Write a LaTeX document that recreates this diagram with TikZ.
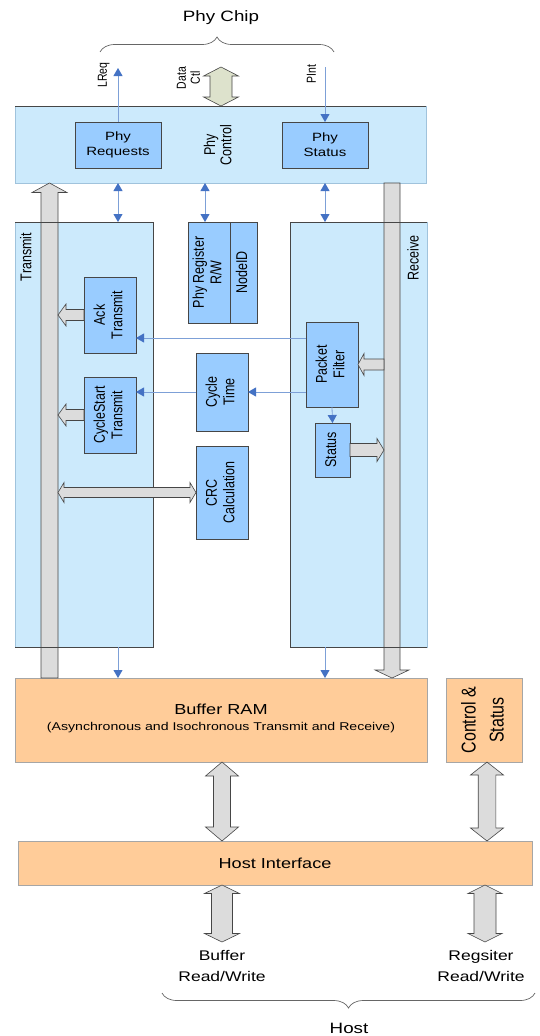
\documentclass[tikz,border=0pt]{standalone}
\usepackage{fontspec}
\usepackage{graphicx}
\setmainfont{Liberation Sans}
\newfontfamily\hf{Liberation Sans}[FakeStretch=1.25]
\newfontfamily\vf{Liberation Sans}[FakeStretch=0.8]
\usetikzlibrary{arrows.meta,calc,decorations.pathreplacing}

\definecolor{lblue}{RGB}{204,234,252}
\definecolor{mblue}{RGB}{153,204,255}
\definecolor{orng}{RGB}{255,204,153}
\definecolor{agray}{RGB}{220,220,220}
\definecolor{olivefill}{RGB}{221,226,204}
\definecolor{tblue}{RGB}{68,114,196}
\definecolor{tline}{RGB}{125,160,215}
\definecolor{edge}{RGB}{70,70,70}
\definecolor{ledge}{RGB}{160,195,220}

% rotated (bottom-to-top) text, compensating the horizontal stretch
\newcommand\rtxt[3]{\rotatebox{90}{\vf\fontsize{#1}{#2}\selectfont\begin{tabular}{@{}c@{}}#3\end{tabular}}}

% box from corners: [style]{x1}{y1}{x2}{y2}{name}{text}
\newcommand\bx[7][]{\node[#1, minimum width={(#4)-(#2)}, minimum height={(#5)-(#3)}, inner sep=0pt, outer sep=0pt] (#6) at ({((#2)+(#4))/2},{((#3)+(#5))/2}) {#7};}

% single block arrow: [style]{tail}{tip}{shaft half width}{head half width}{head length}
\newcommand\sarrow[6][]{%
  \path (#2) coordinate (sa-t) (#3) coordinate (sa-p);
  \path ($(sa-p)!#6!(sa-t)$) coordinate (sa-b);
  \draw[blk,#1] ($(sa-t)!#4!90:(sa-p)$) -- ($(sa-b)!#4!90:(sa-p)$) -- ($(sa-b)!#5!90:(sa-p)$) -- (sa-p)
     -- ($(sa-b)!#5!-90:(sa-p)$) -- ($(sa-b)!#4!-90:(sa-p)$) -- ($(sa-t)!#4!-90:(sa-p)$) -- cycle;}

% double block arrow: [style]{tip a}{tip b}{shaft half width}{head half width}{head length}
\newcommand\darrow[6][]{%
  \path (#2) coordinate (da-a) (#3) coordinate (da-b);
  \path ($(da-a)!#6!(da-b)$) coordinate (da-ab) ($(da-b)!#6!(da-a)$) coordinate (da-bb);
  \draw[blk,#1] (da-a) -- ($(da-ab)!#5!90:(da-b)$) -- ($(da-ab)!#4!90:(da-b)$) -- ($(da-bb)!#4!90:(da-b)$)
     -- ($(da-bb)!#5!90:(da-b)$) -- (da-b) -- ($(da-bb)!#5!-90:(da-b)$) -- ($(da-bb)!#4!-90:(da-b)$)
     -- ($(da-ab)!#4!-90:(da-b)$) -- ($(da-ab)!#5!-90:(da-b)$) -- cycle;}

\begin{document}
\begin{tikzpicture}[x=1pt,y=-1pt,
  blk/.style={draw=edge, fill=agray, line width=0.6pt, line join=miter},
  lb/.style={fill=lblue, draw=ledge, line width=0.6pt},
  ib/.style={fill=mblue, draw=edge, line width=0.7pt},
  ob/.style={fill=orng, draw=gray!70, line width=0.6pt},
  tln/.style={draw=tline, line width=0.8pt},
  ta/.style={tln, -{Triangle[length=8pt,width=9pt,color=tblue]}},
  tda/.style={tln, {Triangle[length=8pt,width=9pt,color=tblue]}-{Triangle[length=8pt,width=9pt,color=tblue]}},
  darkedge/.style={draw=edge, line width=0.6pt},
  bt/.style={font=\hf\fontsize{12}{15}\selectfont, align=center},
  lbl/.style={inner sep=0pt},
  bracestyle/.style={decorate, decoration={brace, amplitude=15pt}, draw=gray!80!black, line width=0.7pt},
]
\useasboundingbox (0,0) rectangle (539,1036);

% helper coordinates
\coordinate (colT) at (49.5,0);
\coordinate (colR) at (392,0);
\coordinate (colDC) at (221,0);
\coordinate (tshR) at (58,0);
\coordinate (rshL) at (384,0);
\coordinate (regArrow) at (205,0);
\coordinate (colB) at (222,0);
\coordinate (colC) at (487,0);
\coordinate (colD) at (485,0);
\coordinate (lowEnd) at (0,942);
\coordinate (pfA) at (0,338);
\coordinate (pfB) at (0,392);
\coordinate (lreqEnd) at (118,68);
\coordinate (pintStart) at (325,67);
\coordinate (dcTop) at (221,67);
\coordinate (brL) at (100,52);
\coordinate (brR) at (334,52);
\coordinate (hbL) at (162,993);
\coordinate (hbR) at (535,993);

% title and brace
\node[lbl, font=\hf\fontsize{15}{18}\selectfont] (chip) at (221,18) {Phy Chip};
\draw[bracestyle] (brL) -- (brR);

% big light-blue boxes
\bx[lb]{15}{106}{426}{183}{phyctl}{}
\bx[lb]{15}{222}{153}{647}{tx}{}
\bx[lb]{290}{222}{427}{647}{rx}{}

% orange boxes
\bx[ob]{15}{678}{427}{762}{buf}{}
\bx[ob]{446}{678}{522}{762}{cs}{\rtxt{20}{28}{Control \&\\Status}}
\bx[ob,font=\hf\fontsize{14.5}{17}\selectfont]{18}{841}{532}{885}{host}{Host Interface}

% block arrows (shafts)
\sarrow{buf.north -| colT}{phyctl.south -| colT}{8.5pt}{17.5pt}{9.5pt}
\sarrow{phyctl.south -| colR}{buf.north -| colR}{8pt}{17pt}{8pt}

% dark edges
\draw[darkedge] (phyctl.north west) -- (phyctl.north east);
\draw[darkedge] (tx.north west) -- (tx.north east) -- (tx.south east) -- (tx.south west);
\draw[darkedge] (rx.north east) -- (rx.north west) -- (rx.south west) -- (rx.south east);

% labels of big boxes
\node[lbl] (phyctlT) at (220,145) {\rtxt{15.6}{16}{Phy\\Control}};
\node[lbl] (txT) at (28,257) {\rtxt{15.6}{17.5}{Transmit}};
\node[lbl] (rxT) at (415,258) {\rtxt{15.6}{17.5}{Receive}};
\node[lbl, font=\hf\fontsize{14.5}{17}\selectfont] (bufT) at (221,709) {Buffer RAM};
\node[lbl, font=\hf\fontsize{11.3}{13}\selectfont] (bufS) at (221,728) {(Asynchronous and Isochronous Transmit and Receive)};

% inner boxes
\bx[ib,bt]{75}{122}{161}{168}{phyreq}{Phy\\Requests}
\bx[ib,bt]{282}{122}{368}{168}{phystat}{Phy\\Status}
\bx[ib]{188}{222}{230}{323}{regL}{\rtxt{15.6}{17.5}{Phy Register\\R/W}}
\bx[ib]{230}{222}{257}{323}{regR}{\rtxt{15.6}{17.5}{NodeID}}
\bx[ib]{84}{277}{136}{353}{ack}{\rtxt{15.6}{17.5}{Ack\\Transmit}}
\bx[ib]{84}{377}{136}{453}{cst}{\rtxt{15.6}{17.5}{CycleStart\\Transmit}}
\bx[ib]{196}{353}{248}{431}{ctime}{\rtxt{15.6}{17.5}{Cycle\\Time}}
\bx[ib]{196}{446}{248}{539}{crc}{\rtxt{15.6}{17.5}{CRC\\Calculation}}
\bx[ib]{306}{322}{358}{407}{pf}{\rtxt{15.6}{17.5}{Packet\\Filter}}
\bx[ib]{315}{423}{350}{477}{stat}{\rtxt{15.6}{17.5}{Status}}

% top signals
\node[lbl] (lreqT) at (104,75) {\rtxt{13.1}{14}{LReq}};
\node[lbl] (dataT) at (190,78) {\rtxt{13.1}{14}{Data\\Ctl}};
\node[lbl] (pintT) at (313,74) {\rtxt{13.1}{14}{PInt}};
\draw[ta] (phyreq.north) -- (lreqEnd);
\draw[ta] (pintStart) -- (phystat.north);
\darrow[fill=olivefill]{dcTop}{phyctl.north -| dcTop}{11pt}{17.5pt}{9pt}

% phy control <-> blocks
\draw[tda] (phyctl.south -| phyreq.south) -- (tx.north -| phyreq.south);
\draw[tda] (phyctl.south -| regArrow) -- (regL.north -| regArrow);
\draw[tda] (phyctl.south -| phystat.south) -- (rx.north -| phystat.south);

% small gray arrows
\sarrow{ack.west}{ack.west -| tshR}{5.5pt}{11pt}{8pt}
\sarrow{cst.west}{cst.west -| tshR}{5.5pt}{11pt}{8pt}
\darrow{crc.west -| tshR}{crc.west}{5pt}{10pt}{6pt}
\sarrow{pf.east -| rshL}{pf.east}{5.5pt}{11pt}{6pt}
\sarrow{stat.east}{stat.east -| rshL}{6.5pt}{11.5pt}{7pt}

% thin arrows
\draw[ta] (pf.west |- pfA) -- (ack.east |- pfA);
\draw[ta] (pf.west |- pfB) -- (ctime.east |- pfB);
\draw[ta] (ctime.west |- pfB) -- (cst.east |- pfB);
\draw[ta] (pf.south) -- (stat.north);
\draw[ta] (tx.south -| phyreq.south) -- (buf.north -| phyreq.south);
\draw[ta] (rx.south -| phystat.south) -- (buf.north -| phystat.south);

% buffer/control <-> host interface
\darrow{buf.south -| colB}{host.north -| colB}{8.5pt}{16.5pt}{14pt}
\darrow{cs.south -| colC}{host.north -| colC}{8.8pt}{16.5pt}{13pt}

% host side
\darrow{host.south -| colB}{colB |- lowEnd}{10.5pt}{17.5pt}{8.5pt}
\darrow{host.south -| colD}{colD |- lowEnd}{11pt}{17pt}{8.5pt}
\node[lbl, font=\hf\fontsize{14}{21}\selectfont, align=center] (bufrw) at (222,966) {Buffer\\Read/Write};
\node[lbl, font=\hf\fontsize{14}{21}\selectfont, align=center] (regrw) at (481,966) {Regsiter\\Read/Write};
\draw[bracestyle] (hbR) -- (hbL);
\node[lbl, font=\hf\fontsize{15}{18}\selectfont] (hostT) at (349,1028) {Host};
\end{tikzpicture}
\end{document}
